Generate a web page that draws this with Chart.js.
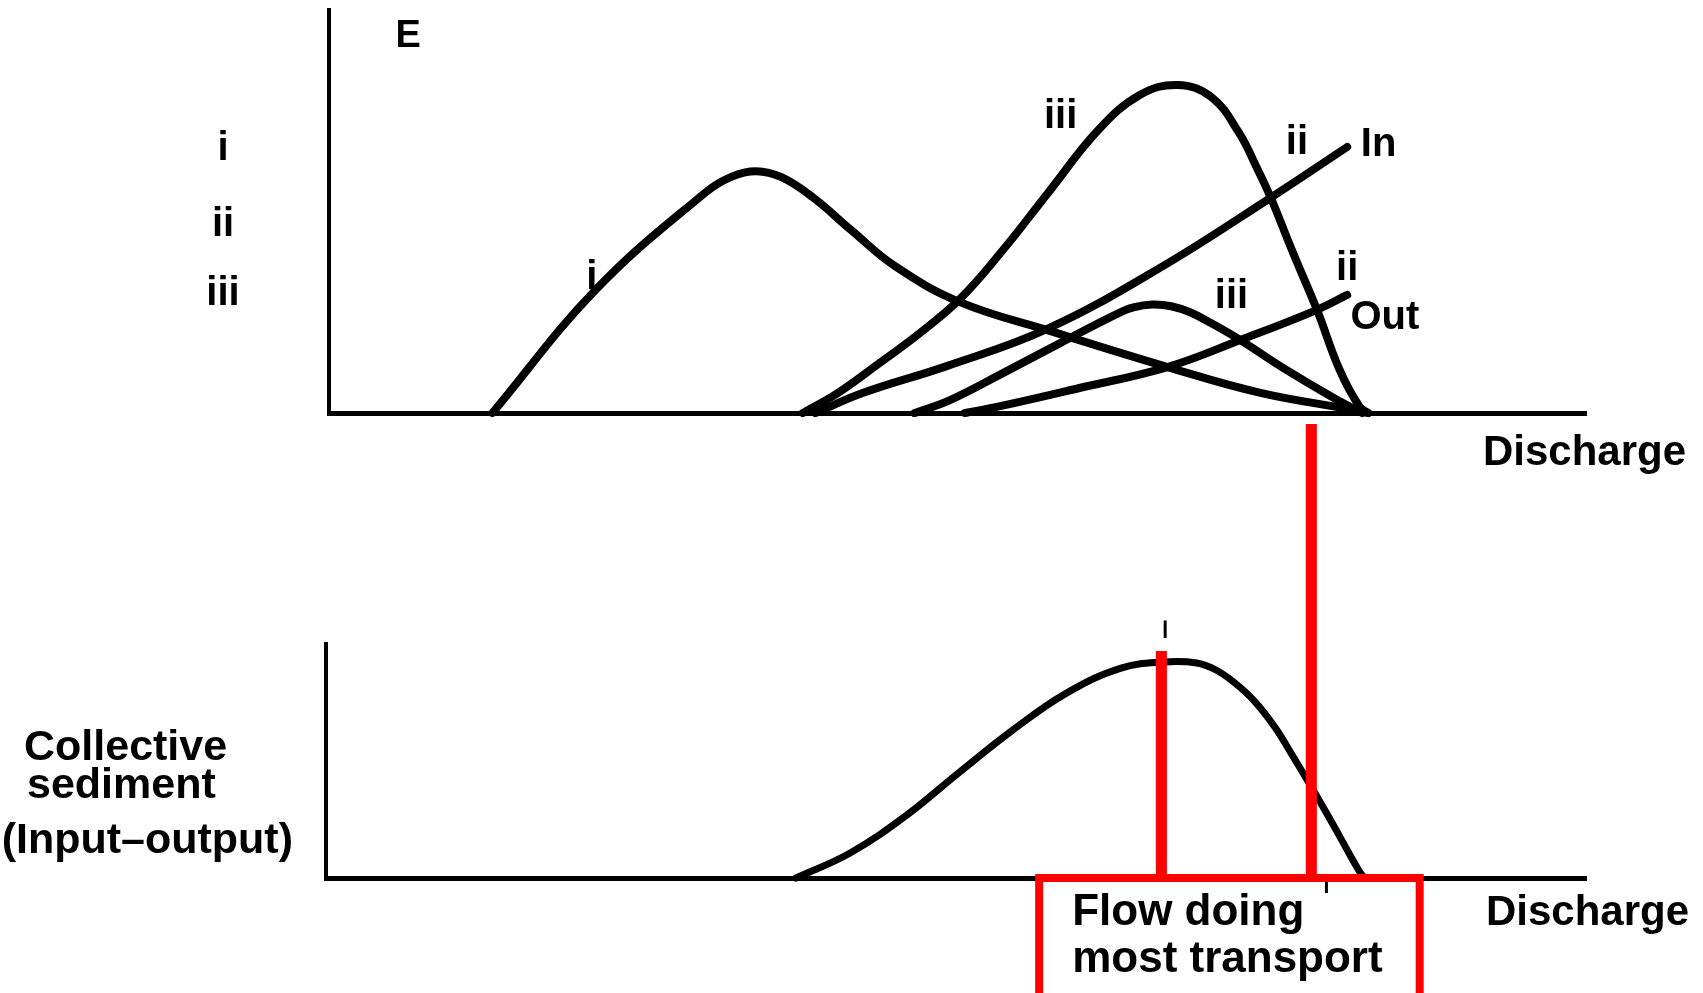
<!DOCTYPE html>
<html>
<head>
<meta charset="utf-8">
<title>Sediment input / output against discharge</title>
<script src="https://cdn.jsdelivr.net/npm/chart.js@4.4.0/dist/chart.umd.min.js"></script>
<style>
  html, body { margin: 0; padding: 0; background: #fff; }
  #wrap { position: relative; width: 1703px; height: 993px; overflow: hidden; background: #fff; }
  .layer { position: absolute; left: 0; top: 0; width: 1703px; height: 993px; }
</style>
</head>
<body>
<div id="wrap">
  <div class="layer"><canvas id="topChart"></canvas></div>
  <div class="layer"><canvas id="bottomChart"></canvas></div>
</div>
<script>
//////////////////////////////////// DATA (discharge 0..100, response 0..100)

// Panel E - curve i (fine sediment)
var iQ = [13.0, 21.2, 29.9, 32.0, 34.0, 36.0, 38.5, 41.5, 45.0, 50.2, 57.4, 66.7, 74.1, 82.0, 82.6];
var iE = [0, 30.5, 54.6, 58.6, 60.0, 58.5, 53.5, 45.5, 36.5, 27.5, 20.3, 11.4, 5.0, 0.5, 0];

// curve iii (big hump)
var iiiQ = [37.7, 40.5, 43.8, 47.0, 50.2, 53.5, 57.2, 61.2, 64.5, 67.5, 70.2, 72.4, 73.9, 74.9, 76.7, 78.6, 80.4, 82.0, 82.7];
var iiiE = [0, 5.0, 12.4, 19.8, 28.3, 40.0, 54.6, 70.2, 78.9, 81.4, 78.4, 69.5, 60.3, 53.6, 39.7, 25.6, 10.7, 1.5, 0];

// ii - In
var inQ = [38.7, 42.5, 49.2, 57.1, 66.1, 74.9, 81.0];
var inE = [0, 5.0, 11.7, 20.8, 36.0, 53.4, 66.0];

// iii - small hump
var iiiSmallQ = [46.6, 49.4, 53.8, 58.2, 62.7, 64.0, 65.5, 67.0, 68.5, 70.0, 72.5, 75.9, 79.9, 82.2];
var iiiSmallE = [0, 3.2, 10.2, 17.4, 24.6, 26.2, 26.9, 26.5, 25.0, 22.6, 18.1, 11.2, 3.8, 0];

// ii - Out
var outQ = [50.6, 53.4, 59.7, 66.7, 72.5, 78.6, 81.0];
var outE = [0, 1.7, 6.2, 11.4, 18.1, 25.6, 29.3];

// Bottom panel - collective sediment (input - output)
var collQ = [37.3, 41.6, 45.9, 50.2, 54.5, 58.8, 63.1, 66.5, 69.1, 70.6, 72.1, 73.7, 75.3, 76.8, 78.3, 79.8, 81.2, 82.0, 82.4];
var collE = [0, 10.7, 26.1, 44.9, 63.2, 79.1, 89.7, 92.3, 91.9, 89.0, 83.5, 75.5, 64.5, 51.5, 38.0, 24.0, 10.5, 3.0, 0];

// Text
var panelLetter = 'E';
var xTitle = 'Discharge';
var sizeClasses = ['i', 'ii', 'iii'];
var sizeClassLevels = [65.5, 46.6, 29.5];          // where the key letters sit on the y axis
var yTitleLines = ['Collective', 'sediment', '(Input\u2013output)'];
var boxLines = ['Flow doing', 'most transport'];

// Curve labels (placed in data units next to each curve)
var curveLabels = [
    { text: 'i',   q: 20.9, e: 33.5 },
    { text: 'iii', q: 58.2, e: 73.4 },
    { text: 'ii',  q: 77.0, e: 67.0 },
    { text: 'In',  q: 83.5, e: 66.5 },
    { text: 'ii',  q: 81.0, e: 35.7 },
    { text: 'iii', q: 71.8, e: 28.8 },
    { text: 'Out', q: 84.0, e: 23.6 },
];

// Marked discharges (red annotation)
var peakQ = 66.3;          // flow doing most transport
var cutQ = 78.2;           // second red marker
var boxQ = [56.6, 86.8];   // extent of the red caption box

//////////////////////////////////// Setup

var FONT = '"Liberation Sans", Arial, sans-serif';
var topChart, bottomChart;

function pts(xs, ys) {
    return xs.map(function (x, k) { return { x: x, y: ys[k] }; });
}

function curve(xs, ys, w) {
    return {
        type: 'line',
        data: pts(xs, ys),
        borderColor: '#000',
        borderWidth: w,
        pointRadius: 0,
        fill: false,
        tension: 0.4,
        borderCapStyle: 'round',
        borderJoinStyle: 'round',
        clip: 12,
    };
}

function axes(xw, yw) {
    return {
        x: {
            type: 'linear', min: 0, max: 100,
            ticks: { display: false },
            grid: { display: false, drawTicks: false },
            border: { display: true, color: '#000', width: xw },
        },
        y: {
            type: 'linear', min: 0, max: 100,
            ticks: { display: false },
            grid: { display: false, drawTicks: false },
            border: { display: true, color: '#000', width: yw },
        },
    };
}

// Texts of the upper panel
var topLabels = {
    id: 'topLabels',
    afterDraw(chart) {
        const { ctx, chartArea } = chart;
        const x = chart.scales.x, y = chart.scales.y;
        ctx.save();
        ctx.fillStyle = '#000';

        ctx.font = 'bold 38px ' + FONT;
        ctx.textAlign = 'left';
        ctx.textBaseline = 'alphabetic';
        ctx.fillText(panelLetter, x.getPixelForValue(5.3), y.getPixelForValue(90.8));

        ctx.font = 'bold 40px ' + FONT;
        ctx.textAlign = 'center';
        ctx.textBaseline = 'middle';
        curveLabels.forEach(function (l) {
            ctx.fillText(l.text, x.getPixelForValue(l.q), y.getPixelForValue(l.e));
        });
        sizeClasses.forEach(function (s, k) {
            ctx.fillText(s, chartArea.left - 106, y.getPixelForValue(sizeClassLevels[k]));
        });

        ctx.font = 'bold 42px ' + FONT;
        ctx.textAlign = 'right';
        ctx.textBaseline = 'alphabetic';
        ctx.fillText(xTitle, chartArea.right + 100, chartArea.bottom + 52);
        ctx.restore();
    }
};

// Texts and red markings of the lower panel
var bottomLabels = {
    id: 'bottomLabels',
    afterDraw(chart) {
        const { ctx, chartArea } = chart;
        const x = chart.scales.x, y = chart.scales.y;
        const base = y.getPixelForValue(0);
        ctx.save();
        ctx.fillStyle = '#000';

        // y title
        ctx.font = 'bold 43px ' + FONT;
        ctx.textBaseline = 'alphabetic';
        ctx.textAlign = 'left';
        ctx.fillText(yTitleLines[0], 24, 760);
        ctx.fillText(yTitleLines[1], 27, 798);
        ctx.textAlign = 'right';
        ctx.fillText(yTitleLines[2], 293, 853);

        ctx.font = 'bold 42px ' + FONT;
        ctx.fillText(xTitle, chartArea.right + 103, base + 47);

        // little pencil ticks
        ctx.strokeStyle = '#000';
        ctx.lineWidth = 3;
        ctx.beginPath();
        ctx.moveTo(x.getPixelForValue(66.6), y.getPixelForValue(110));
        ctx.lineTo(x.getPixelForValue(66.6), y.getPixelForValue(102.6));
        ctx.moveTo(x.getPixelForValue(79.4), base + 2);
        ctx.lineTo(x.getPixelForValue(79.4), base + 15);
        ctx.stroke();

        // red markers
        ctx.strokeStyle = '#ff0000';
        ctx.lineCap = 'butt';
        ctx.lineWidth = 11;
        ctx.beginPath();
        ctx.moveTo(x.getPixelForValue(cutQ), topChart.scales.y.getPixelForValue(0) + 11);
        ctx.lineTo(x.getPixelForValue(cutQ), base);
        ctx.moveTo(x.getPixelForValue(peakQ), y.getPixelForValue(97));
        ctx.lineTo(x.getPixelForValue(peakQ), base);
        ctx.stroke();

        const bl = x.getPixelForValue(boxQ[0]), br = x.getPixelForValue(boxQ[1]);
        ctx.lineWidth = 8;
        ctx.strokeRect(bl, base, br - bl, chart.height - base + 20);

        ctx.fillStyle = '#000';
        ctx.font = 'bold 44px ' + FONT;
        ctx.textAlign = 'left';
        ctx.fillText(boxLines[0], bl + 33, base + 47);
        ctx.fillText(boxLines[1], bl + 33, base + 94);
        ctx.restore();
    }
};

var common = {
    responsive: true,
    maintainAspectRatio: false,
    animation: false,
    events: [],
    plugins: { legend: { display: false }, tooltip: { enabled: false }, title: { display: false } },
};

topChart = new Chart(document.getElementById('topChart'), {
    data: {
        datasets: [
            curve(iQ, iE, 8),
            curve(iiiQ, iiiE, 8),
            curve(inQ, inE, 8),
            curve(iiiSmallQ, iiiSmallE, 8),
            curve(outQ, outE, 8),
        ]
    },
    options: Object.assign({}, common, {
        layout: { padding: { left: 329, top: 10, right: 117, bottom: 580 } },
        scales: axes(5, 4),
    }),
    plugins: [topLabels],
});

bottomChart = new Chart(document.getElementById('bottomChart'), {
    data: { datasets: [curve(collQ, collE, 7)] },
    options: Object.assign({}, common, {
        layout: { padding: { left: 326, top: 644, right: 117, bottom: 115 } },
        scales: axes(5, 4),
    }),
    plugins: [bottomLabels],
});
</script>
</body>
</html>
